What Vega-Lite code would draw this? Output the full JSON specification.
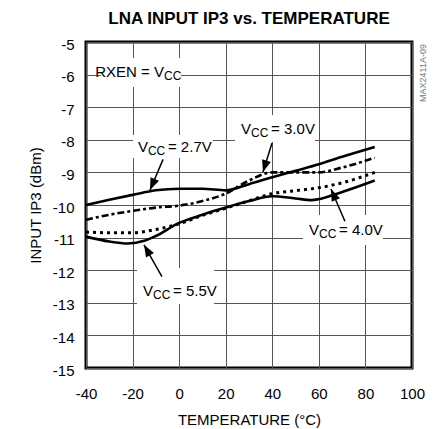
{
  "$schema": "https://vega.github.io/schema/vega-lite/v6.json",
  "width": 326,
  "height": 326,
  "autosize": {"type": "none"},
  "padding": {"left": 86, "top": 42, "right": 22, "bottom": 61},
  "background": "white",
  "title": {"text": "LNA INPUT IP3 vs. TEMPERATURE", "fontSize": 17, "fontWeight": "bold", "offset": 9, "color": "black"},
  "config": {
    "font": "Liberation Sans, Arial, sans-serif",
    "view": {"stroke": "black", "strokeWidth": 3},
    "axis": {"labelFontSize": 15, "labelColor": "black", "titleFontSize": 15, "titleFontWeight": "normal", "titleColor": "black"}
  },
  "datasets": {
    "curves": [
      {"vcc": "2.7V", "t": -40, "ip3": -10.0}, {"vcc": "2.7V", "t": -30, "ip3": -9.84}, {"vcc": "2.7V", "t": -20, "ip3": -9.69}, {"vcc": "2.7V", "t": -10, "ip3": -9.55}, {"vcc": "2.7V", "t": 0, "ip3": -9.5}, {"vcc": "2.7V", "t": 10, "ip3": -9.5}, {"vcc": "2.7V", "t": 20, "ip3": -9.55}, {"vcc": "2.7V", "t": 30, "ip3": -9.36}, {"vcc": "2.7V", "t": 40, "ip3": -9.15}, {"vcc": "2.7V", "t": 50, "ip3": -8.95}, {"vcc": "2.7V", "t": 60, "ip3": -8.75}, {"vcc": "2.7V", "t": 70, "ip3": -8.52}, {"vcc": "2.7V", "t": 84, "ip3": -8.22},
      {"vcc": "3.0V", "t": -40, "ip3": -10.45}, {"vcc": "3.0V", "t": -30, "ip3": -10.3}, {"vcc": "3.0V", "t": -20, "ip3": -10.18}, {"vcc": "3.0V", "t": -10, "ip3": -10.08}, {"vcc": "3.0V", "t": 0, "ip3": -10.02}, {"vcc": "3.0V", "t": 10, "ip3": -9.88}, {"vcc": "3.0V", "t": 20, "ip3": -9.65}, {"vcc": "3.0V", "t": 30, "ip3": -9.25}, {"vcc": "3.0V", "t": 40, "ip3": -9.0}, {"vcc": "3.0V", "t": 50, "ip3": -9.0}, {"vcc": "3.0V", "t": 60, "ip3": -9.0}, {"vcc": "3.0V", "t": 70, "ip3": -8.85}, {"vcc": "3.0V", "t": 84, "ip3": -8.55},
      {"vcc": "4.0V", "t": -40, "ip3": -10.83}, {"vcc": "4.0V", "t": -30, "ip3": -10.85}, {"vcc": "4.0V", "t": -20, "ip3": -10.85}, {"vcc": "4.0V", "t": -10, "ip3": -10.75}, {"vcc": "4.0V", "t": 0, "ip3": -10.58}, {"vcc": "4.0V", "t": 10, "ip3": -10.32}, {"vcc": "4.0V", "t": 20, "ip3": -10.1}, {"vcc": "4.0V", "t": 30, "ip3": -9.87}, {"vcc": "4.0V", "t": 40, "ip3": -9.65}, {"vcc": "4.0V", "t": 50, "ip3": -9.56}, {"vcc": "4.0V", "t": 60, "ip3": -9.47}, {"vcc": "4.0V", "t": 70, "ip3": -9.32}, {"vcc": "4.0V", "t": 84, "ip3": -9.0},
      {"vcc": "5.5V", "t": -40, "ip3": -10.97}, {"vcc": "5.5V", "t": -30, "ip3": -11.12}, {"vcc": "5.5V", "t": -22, "ip3": -11.18}, {"vcc": "5.5V", "t": -15, "ip3": -11.1}, {"vcc": "5.5V", "t": -10, "ip3": -10.95}, {"vcc": "5.5V", "t": 0, "ip3": -10.55}, {"vcc": "5.5V", "t": 10, "ip3": -10.3}, {"vcc": "5.5V", "t": 20, "ip3": -10.08}, {"vcc": "5.5V", "t": 30, "ip3": -9.88}, {"vcc": "5.5V", "t": 40, "ip3": -9.73}, {"vcc": "5.5V", "t": 50, "ip3": -9.8}, {"vcc": "5.5V", "t": 57, "ip3": -9.85}, {"vcc": "5.5V", "t": 70, "ip3": -9.6}, {"vcc": "5.5V", "t": 84, "ip3": -9.25}
    ],
    "labels": [
      {"id": "rxen", "t": -6.5, "ip3": -5.92, "pre": "RXEN = V", "sub": "CC", "post": ""},
      {"id": "2.7V", "t": -13.4, "ip3": -8.22, "pre": "V", "sub": "CC", "post": "= 2.7V"},
      {"id": "3.0V", "t": 30.9, "ip3": -7.67, "pre": "V", "sub": "CC", "post": "= 3.0V"},
      {"id": "4.0V", "t": 60.1, "ip3": -10.77, "pre": "V", "sub": "CC", "post": "= 4.0V"},
      {"id": "5.5V", "t": -11.2, "ip3": -12.64, "pre": "V", "sub": "CC", "post": "= 5.5V"}
    ],
    "boxes": [
      {"id": "rxen", "t": -33.6, "t2": 0.8, "ip3": -5.49, "ip32": -6.38},
      {"id": "2.7V", "t": -19.8, "t2": 14.5, "ip3": -7.85, "ip32": -8.56},
      {"id": "3.0V", "t": 24.0, "t2": 58.3, "ip3": -7.24, "ip32": -8.07},
      {"id": "4.0V", "t": 53.2, "t2": 87.5, "ip3": -10.31, "ip32": -11.23},
      {"id": "5.5V", "t": -18.1, "t2": 15.0, "ip3": -11.93, "ip32": -13.04}
    ],
    "arrows": [
      {"id": "2.7V", "t2": -6.9, "ip32": -8.6, "t": -12.5, "ip3": -9.54},
      {"id": "3.0V", "t2": 39.9, "ip32": -8.1, "t": 36.0, "ip3": -8.99},
      {"id": "4.0V", "t2": 71.2, "ip32": -10.5, "t": 65.2, "ip3": -9.51},
      {"id": "5.5V", "t2": -7.4, "ip32": -12.2, "t": -15.1, "ip3": -11.22}
    ],
    "code": [{"t": 104.6, "ip3": -5.95, "txt": "MAX2411A-09"}]
  },
  "encoding": {
    "x": {"field": "t", "type": "quantitative", "scale": {"domain": [-40, 100], "nice": false, "zero": false},
          "axis": {"values": [-40, -20, 0, 20, 40, 60, 80, 100], "grid": true, "gridColor": "#555", "gridWidth": 1, "gridOpacity": 1, "domain": false, "ticks": false, "labelFlush": false, "labelOverlap": false, "labelPadding": 18, "titlePadding": 11, "title": "TEMPERATURE (°C)", "labelExpr": "replace(datum.label, '−', '-')"}},
    "y": {"field": "ip3", "type": "quantitative", "scale": {"domain": [-15, -5], "nice": false, "zero": false},
          "axis": {"values": [-15, -14, -13, -12, -11, -10, -9, -8, -7, -6, -5], "grid": true, "gridColor": "#555", "gridWidth": 1, "gridOpacity": 1, "domain": false, "ticks": false, "labelFlush": false, "labelOverlap": false, "labelPadding": 12, "labelOffset": 2, "titlePadding": 9, "title": "INPUT IP3 (dBm)", "labelExpr": "replace(datum.label, '−', '-')"}}
  },
  "layer": [
    {
      "data": {"name": "curves"},
      "transform": [{"filter": "datum.vcc === '2.7V' || datum.vcc === '5.5V'"}],
      "mark": {"type": "line", "color": "black", "strokeWidth": 2.6, "interpolate": "monotone"},
      "encoding": {"detail": {"field": "vcc"}}
    },
    {
      "data": {"name": "curves"},
      "transform": [{"filter": "datum.vcc === '3.0V'"}],
      "mark": {"type": "line", "color": "black", "strokeWidth": 2.6, "interpolate": "monotone", "strokeDash": [7, 3, 3, 3]},
      "encoding": {}
    },
    {
      "data": {"name": "curves"},
      "transform": [{"filter": "datum.vcc === '4.0V'"}],
      "mark": {"type": "line", "color": "black", "strokeWidth": 3, "interpolate": "monotone", "strokeDash": [3, 4]},
      "encoding": {}
    },
    {
      "data": {"name": "boxes"},
      "mark": {"type": "rect", "fill": "white", "stroke": null},
      "encoding": {"x2": {"field": "t2"}, "y2": {"field": "ip32"}}
    },
    {
      "data": {"name": "arrows"},
      "mark": {"type": "rule", "color": "black", "strokeWidth": 1.5},
      "encoding": {"x2": {"field": "t2"}, "y2": {"field": "ip32"}}
    },
    {
      "data": {"name": "arrows"},
      "transform": [{"filter": "datum.id === '2.7V'"}],
      "mark": {"type": "point", "shape": "M0,0L0.38,1L-0.38,1Z", "filled": true, "color": "black", "opacity": 1, "size": 576, "angle": 203},
      "encoding": {}
    },
    {
      "data": {"name": "arrows"},
      "transform": [{"filter": "datum.id === '3.0V'"}],
      "mark": {"type": "point", "shape": "M0,0L0.38,1L-0.38,1Z", "filled": true, "color": "black", "opacity": 1, "size": 576, "angle": 197},
      "encoding": {}
    },
    {
      "data": {"name": "arrows"},
      "transform": [{"filter": "datum.id === '4.0V'"}],
      "mark": {"type": "point", "shape": "M0,0L0.38,1L-0.38,1Z", "filled": true, "color": "black", "opacity": 1, "size": 576, "angle": 336},
      "encoding": {}
    },
    {
      "data": {"name": "arrows"},
      "transform": [{"filter": "datum.id === '5.5V'"}],
      "mark": {"type": "point", "shape": "M0,0L0.38,1L-0.38,1Z", "filled": true, "color": "black", "opacity": 1, "size": 576, "angle": 330},
      "encoding": {}
    },
    {
      "data": {"name": "labels"},
      "mark": {"type": "text", "align": "right", "baseline": "middle", "fontSize": 15, "color": "black"},
      "encoding": {"text": {"field": "pre"}}
    },
    {
      "data": {"name": "labels"},
      "mark": {"type": "text", "align": "left", "baseline": "middle", "fontSize": 12, "dy": 4, "color": "black"},
      "encoding": {"text": {"field": "sub"}}
    },
    {
      "data": {"name": "labels"},
      "mark": {"type": "text", "align": "left", "baseline": "middle", "fontSize": 15, "dx": 20, "color": "black"},
      "encoding": {"text": {"field": "post"}}
    },
    {
      "data": {"name": "code"},
      "mark": {"type": "text", "align": "center", "baseline": "middle", "fontSize": 9, "angle": 270, "color": "#777"},
      "encoding": {"text": {"field": "txt"}}
    }
  ]
}
